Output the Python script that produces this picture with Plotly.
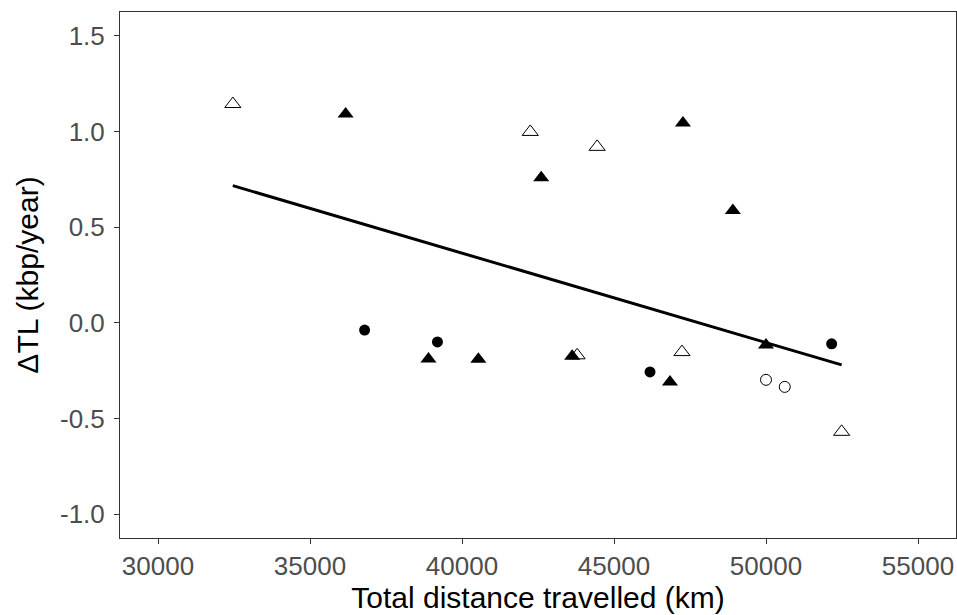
import plotly.graph_objects as go

# Filled triangles
ft_x = [36172, 38897, 40538, 43624, 42606, 47268, 48910, 46841, 50000]
ft_y = [1.092, -0.189, -0.190, -0.175, 0.759, 1.045, 0.587, -0.309, -0.116]
# Open triangles
ot_x = [32462, 43788, 42245, 44445, 47236, 52488]
ot_y = [1.144, -0.170, 0.998, 0.920, -0.153, -0.570]
# Filled circles
fc_x = [36796, 39192, 46185, 52160]
fc_y = [-0.038, -0.100, -0.257, -0.110]
# Open circles
oc_x = [50000, 50617]
oc_y = [-0.298, -0.335]
# Regression line
fit_x = [32462, 52488]
fit_y = [0.717, -0.220]

x_ticks = [30000, 35000, 40000, 45000, 50000, 55000]
y_ticks = [-1.0, -0.5, 0.0, 0.5, 1.0, 1.5]
y_ticktext = ["-1.0", "-0.5", "0.0", "0.5", "1.0", "1.5"]

FONT = "Liberation Sans, Arial"

fig = go.Figure()
fig.add_trace(go.Scatter(x=fit_x, y=fit_y, mode="lines",
                         line=dict(color="black", width=3), showlegend=False))
fig.add_trace(go.Scatter(x=ot_x, y=ot_y, mode="markers", showlegend=False,
                         marker=dict(symbol="triangle-up-open", size=14,
                                     color="black", line=dict(width=1))))
fig.add_trace(go.Scatter(x=ft_x, y=ft_y, mode="markers", showlegend=False,
                         marker=dict(symbol="triangle-up", size=14,
                                     color="black", line=dict(width=0))))
fig.add_trace(go.Scatter(x=oc_x, y=oc_y, mode="markers", showlegend=False,
                         marker=dict(symbol="circle-open", size=11,
                                     color="black", line=dict(width=1))))
fig.add_trace(go.Scatter(x=fc_x, y=fc_y, mode="markers", showlegend=False,
                         marker=dict(symbol="circle", size=11,
                                     color="black", line=dict(width=0))))

axis_common = dict(showgrid=False, zeroline=False, showline=True, mirror=True,
                   linecolor="#333333", linewidth=1, ticks="outside",
                   ticklen=5, tickwidth=1.2, tickcolor="#333333",
                   tickfont=dict(family=FONT, size=26, color="#4D4D4D"))

fig.update_layout(
    width=957, height=615,
    margin=dict(l=120, r=1, t=12, b=77),
    paper_bgcolor="white", plot_bgcolor="white",
    xaxis=dict(range=[28750, 56250], tickvals=x_ticks,
               ticktext=[str(v) for v in x_ticks],
               title=dict(text="Total distance travelled (km)", standoff=6,
                          font=dict(family=FONT, size=30, color="black")),
               **axis_common),
    yaxis=dict(range=[-1.125, 1.625], tickvals=y_ticks,
               ticktext=y_ticktext, ticklabelstandoff=4,
               title=dict(text="ΔTL (kbp/year)", standoff=12,
                          font=dict(family=FONT, size=30, color="black")),
               **axis_common),
)

fig.write_html("out.html", config={"displayModeBar": False},
               post_script="document.body.style.margin='0';document.body.style.overflow='hidden';")
